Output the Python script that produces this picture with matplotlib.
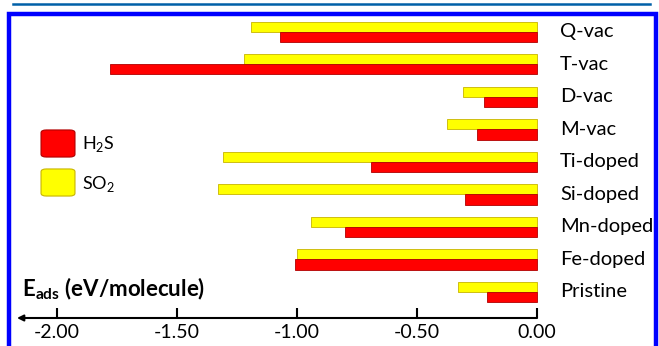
import numpy as np
import matplotlib.pyplot as plt
from matplotlib.patches import Rectangle, FancyBboxPatch

plt.rcParams['font.family'] = ['Lato', 'DejaVu Sans']
plt.rcParams['mathtext.fontset'] = 'custom'
plt.rcParams['mathtext.rm'] = 'Lato'
plt.rcParams['mathtext.bf'] = 'Lato:bold'

# bottom to top
categories = ['Pristine', 'Fe-doped', 'Mn-doped', 'Si-doped', 'Ti-doped',
              'M-vac', 'D-vac', 'T-vac', 'Q-vac']
h2s = [-0.21, -1.01, -0.80, -0.30, -0.69, -0.25, -0.22, -1.78, -1.07]
so2 = [-0.33, -1.00, -0.94, -1.33, -1.31, -0.375, -0.31, -1.22, -1.19]
ticks = [-2.0, -1.5, -1.0, -0.5, 0.0]
series = ['H$_2$S', 'SO$_2$']
colors = ['#ff0000', '#ffff00']
edges = ['#b00000', '#c8b400']

W, H = 659, 346
fig = plt.figure(figsize=(W / 100, H / 100), dpi=100)

# page decorations: header rule and blue frame
fig.add_artist(plt.Line2D([13 / W, 650 / W], [1 - 4 / H, 1 - 4 / H],
                          color='#0060a8', lw=1.8))
fig.add_artist(Rectangle((9 / W, -0.02), 647 / W, 1 - 14 / H + 0.02,
                         fill=False, ec='#0000ff', lw=3.2))

ax = fig.add_axes([17 / W, 28 / H, 528 / W, (318 - 15) / H])
y = np.arange(len(categories))
bh = 0.31
ax.barh(y + 0.155, so2, height=bh, color=colors[1], edgecolor=edges[1], lw=0.6)
ax.barh(y - 0.155, h2s, height=bh, color=colors[0], edgecolor=edges[0], lw=0.6)

x0 = -2.167
ax.set_xlim(x0, 0.033)
ax.set_ylim(-0.8, 8.52)
for s in ax.spines.values():
    s.set_visible(False)
ax.set_yticks([])
ax.set_xticks(ticks)
ax.set_xticklabels(['%.2f' % t for t in ticks], fontsize=14)
ax.tick_params(axis='x', direction='in', length=7, width=1.5, pad=4)
ax.annotate('', xy=(x0, -0.8), xytext=(0.0, -0.8), xycoords='data',
            arrowprops=dict(arrowstyle='-|>', color='black', lw=1.5,
                            mutation_scale=9, shrinkA=0, shrinkB=0),
            annotation_clip=False)

for yi, c in zip(y, categories):
    ax.text(0.095, yi, c, fontsize=14.5, va='center', ha='left', clip_on=False)

ax.text(22 / W, 1 - 289 / H, r'E$_{\mathbf{ads}}$ (eV/molecule)',
        transform=fig.transFigure, fontsize=16, fontweight='bold',
        va='center', ha='left')

# legend, drawn by hand with rounded swatches
for k, (lab, col, ec) in enumerate(zip(series, colors, edges)):
    yc = 143.5 + 39 * k
    fig.add_artist(FancyBboxPatch((43 / W, 1 - (yc + 12.5) / H), 30 / W, 25 / H,
                                  boxstyle='round,pad=0.003,rounding_size=0.008',
                                  fc=col, ec=ec, lw=0.8))
    fig.text(82 / W, 1 - (yc + 1) / H, lab, fontsize=13, va='center', ha='left')

fig.savefig('out.png', dpi=100)
